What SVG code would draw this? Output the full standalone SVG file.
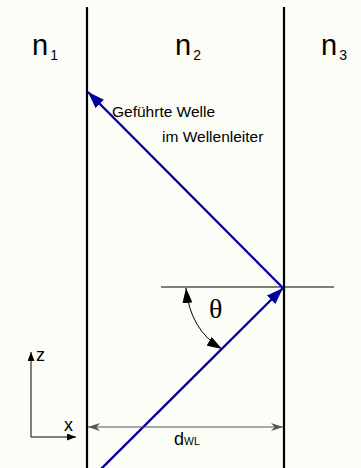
<svg xmlns="http://www.w3.org/2000/svg" width="361" height="468" viewBox="0 0 361 468">
<style>
.wall{stroke:#000;stroke-width:2.2;fill:none}
.ray{stroke:#00009c;stroke-width:2.4;fill:none}
.thin{stroke:#000;stroke-width:1;fill:none}
.n{font-family:"Liberation Sans",Arial,sans-serif;font-size:29px;fill:#000}
.sub{font-size:14px}
.lbl{font-family:"Liberation Sans",Arial,sans-serif;font-size:15.5px;fill:#000}
.ax{font-family:"Liberation Sans",Arial,sans-serif;font-size:18px;fill:#000}
</style>
<defs>
<marker id="blue" viewBox="0 0 10 10" refX="10" refY="5" markerWidth="7" markerHeight="5" markerUnits="strokeWidth" orient="auto" preserveAspectRatio="none"><path d="M0,0 L10,5 L0,10 Z" fill="#00009c"/></marker>
<marker id="blk" viewBox="0 0 10 10" refX="10" refY="5" markerWidth="9" markerHeight="7" orient="auto" markerUnits="userSpaceOnUse" preserveAspectRatio="none"><path d="M0,0 L10,5 L0,10 Z" fill="#000"/></marker>
<marker id="ang" viewBox="0 0 10 10" refX="10" refY="5" markerWidth="15" markerHeight="10" orient="auto-start-reverse" markerUnits="userSpaceOnUse" preserveAspectRatio="none"><path d="M0,0 L10,5 L0,10 Z" fill="#000"/></marker>
<marker id="gry" viewBox="0 0 10 10" refX="10" refY="5" markerWidth="12" markerHeight="8" orient="auto-start-reverse" markerUnits="userSpaceOnUse" preserveAspectRatio="none"><path d="M0,0 L10,5 L0,10 L3,5 Z" fill="#555"/></marker>
</defs>
<rect width="361" height="468" fill="#fdfdf8"/>
<g id="walls">
<line class="wall" x1="87" y1="7" x2="87" y2="468"/>
<line class="wall" x1="284" y1="7" x2="284" y2="468"/>
</g>
<g id="labels-n">
<text class="n" x="32" y="55">n<tspan class="sub" dx="2" dy="5">1</tspan></text>
<text class="n" x="175" y="55">n<tspan class="sub" dx="2" dy="5">2</tspan></text>
<text class="n" x="321" y="55">n<tspan class="sub" dx="2" dy="5">3</tspan></text>
</g>
<g id="normal">
<line class="thin" x1="161" y1="287" x2="334" y2="287"/>
</g>
<g id="connectors">
<line class="ray" x1="100" y1="470" x2="283" y2="288" marker-end="url(#blue)"/>
<line class="ray" x1="283" y1="288" x2="88" y2="92" marker-end="url(#blue)"/>
<path class="thin" stroke-width="1.5" d="M186,288 Q190,330 222,349" marker-start="url(#ang)" marker-end="url(#ang)"/>
</g>
<g id="theta">
<text x="209" y="318" font-family="'Liberation Serif','Times New Roman',serif" font-size="28" fill="#000">θ</text>
</g>
<g id="wave-label">
<text class="lbl" x="112" y="117">Geführte Welle</text>
<text class="lbl" x="162" y="142">im Wellenleiter</text>
</g>
<g id="axes">
<line class="thin" x1="31" y1="437" x2="31" y2="352" marker-end="url(#blk)"/>
<line class="thin" x1="31" y1="437" x2="76" y2="437" marker-end="url(#blk)"/>
<text class="ax" x="36" y="361">z</text>
<text class="ax" x="64" y="431">x</text>
</g>
<g id="dimension">
<line stroke="#555" stroke-width="1.2" x1="88" y1="427" x2="283" y2="427" marker-start="url(#gry)" marker-end="url(#gry)"/>
<text font-family="'Liberation Sans',Arial,sans-serif" font-size="18" fill="#000" x="174" y="445">d<tspan font-size="10.5">WL</tspan></text>
</g>
</svg>
